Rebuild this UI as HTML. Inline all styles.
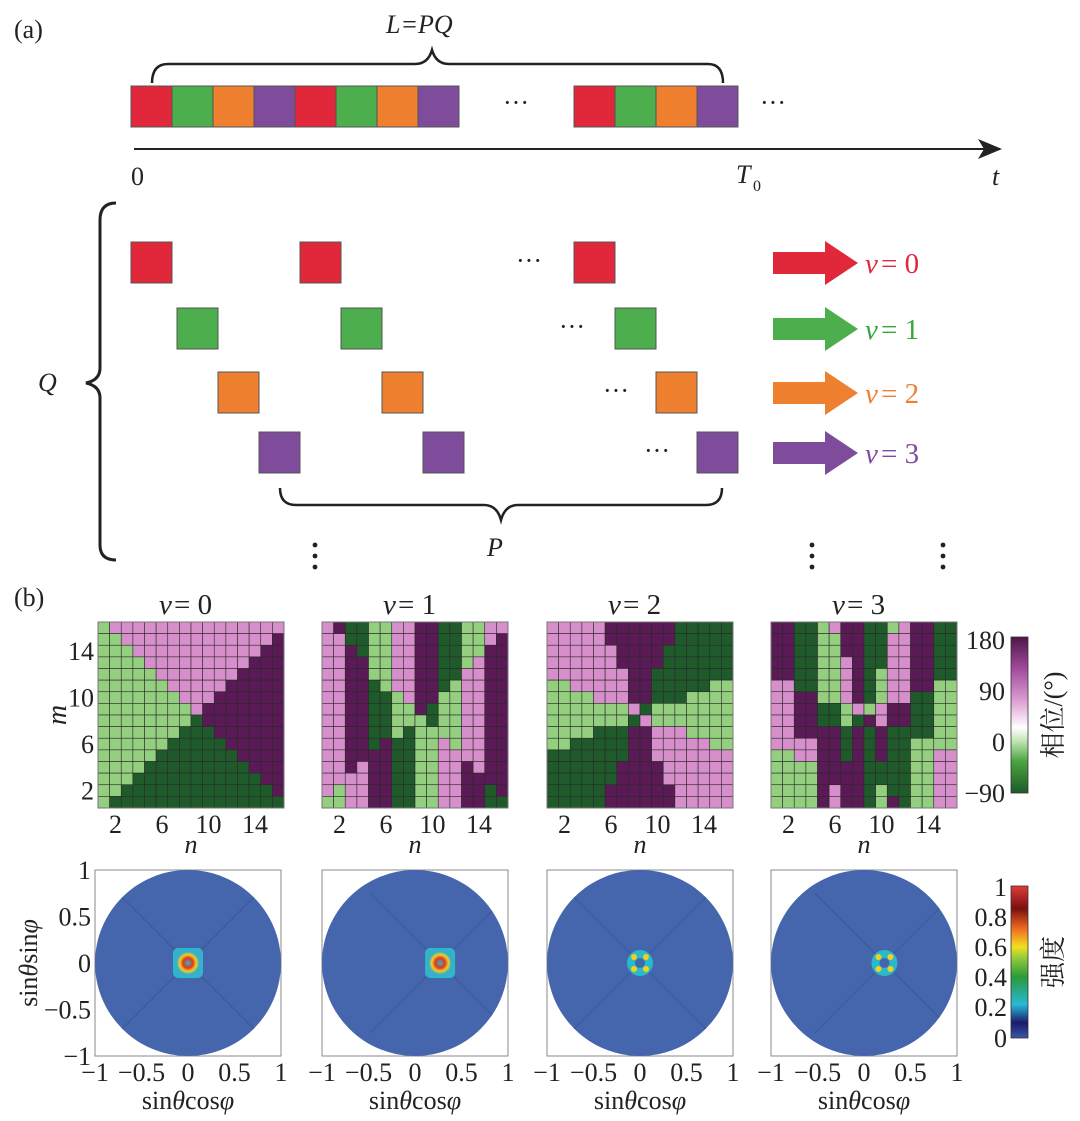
<!DOCTYPE html>
<html><head><meta charset="utf-8"><style>
html,body{margin:0;padding:0;background:#fff;}
svg{display:block;font-family:"Liberation Serif","Noto Serif CJK SC",serif;}
.t{font-size:26px;fill:#222;}
.i{font-style:italic;}
</style></head><body>
<svg id="fig" width="1080" height="1121" viewBox="0 0 1080 1121" xmlns="http://www.w3.org/2000/svg">
<defs>
<marker id="ah" markerWidth="12" markerHeight="10" refX="11" refY="5" orient="auto"><path d="M0,0 L12,5 L0,10 L3,5 Z" fill="#222"/></marker>
<linearGradient id="pg" x1="0" y1="1" x2="0" y2="0">
<stop offset="0" stop-color="#1c5a28"/><stop offset="0.2" stop-color="#4aa33e"/><stop offset="0.33" stop-color="#bfe3b0"/><stop offset="0.42" stop-color="#ffffff"/><stop offset="0.6" stop-color="#d99bd0"/><stop offset="0.8" stop-color="#a04a9a"/><stop offset="1" stop-color="#4e1648"/></linearGradient>
<linearGradient id="ig" x1="0" y1="1" x2="0" y2="0">
<stop offset="0" stop-color="#3b57a8"/><stop offset="0.1" stop-color="#1a1a6a"/><stop offset="0.22" stop-color="#28b9d6"/><stop offset="0.4" stop-color="#2a9a3a"/><stop offset="0.52" stop-color="#8cc83c"/><stop offset="0.6" stop-color="#f2e020"/><stop offset="0.72" stop-color="#ef6a20"/><stop offset="0.85" stop-color="#7a1010"/><stop offset="1" stop-color="#e03a3a"/></linearGradient>
<radialGradient id="spot"><stop offset="0" stop-color="#2ab9c9"/><stop offset="0.35" stop-color="#e03520"/><stop offset="0.6" stop-color="#f2d020"/><stop offset="0.8" stop-color="#3ab0c8"/><stop offset="1" stop-color="#3ab0c8"/></radialGradient>
</defs>

<!-- (a) -->
<text class="t" x="14" y="38">(a)</text>
<text class="t i" x="386" y="33" font-size="28">L=PQ</text>
<path d="M152,83 Q152,64 168,64 L415,64 Q428,64 432,50 Q436,64 449,64 L708,64 Q723,64 723,83" fill="none" stroke="#222" stroke-width="2.5"/>
<g id="strip"></g>
<text class="t" x="503" y="111">···</text>
<text class="t" x="760" y="111">···</text>
<line x1="134" y1="149" x2="1000" y2="149" stroke="#222" stroke-width="2" marker-end="url(#ah)"/>
<text class="t" x="131" y="185">0</text>
<text class="t i" x="736" y="183">T</text><text x="753" y="191" font-size="16" fill="#222">0</text>
<text class="t i" x="992" y="185">t</text>
<path d="M116,203 Q100,203 100,220 L100,368 Q100,380 86,383 Q100,386 100,398 L100,545 Q100,560 116,560" fill="none" stroke="#222" stroke-width="3"/>
<text class="t i" x="38" y="391" font-size="28">Q</text>
<g id="rows"></g>
<path d="M280,488 Q280,505 296,505 L484,505 Q497,505 501,520 Q505,505 518,505 L706,505 Q722,505 722,488" fill="none" stroke="#222" stroke-width="2.5"/>
<text class="t i" x="487" y="556" font-size="28">P</text>
<g fill="#222">
<circle cx="315" cy="545" r="2.4"/><circle cx="315" cy="556" r="2.4"/><circle cx="315" cy="567" r="2.4"/>
<circle cx="812" cy="545" r="2.4"/><circle cx="812" cy="556" r="2.4"/><circle cx="812" cy="567" r="2.4"/>
<circle cx="943" cy="545" r="2.4"/><circle cx="943" cy="556" r="2.4"/><circle cx="943" cy="567" r="2.4"/>
</g>

<!-- (b) -->
<text class="t" x="14" y="606">(b)</text>
<g id="phase"></g>
<g id="inten"></g>
<rect x="1011" y="637" width="17" height="156" fill="url(#pg)" stroke="#333" stroke-width="0.8"/>
<g class="t" text-anchor="end">
<text x="1005" y="649">180</text><text x="1005" y="700">90</text><text x="1005" y="751">0</text><text x="1005" y="802">−90</text></g>
<text class="t" font-size="28" transform="translate(1062,715) rotate(-90)" text-anchor="middle">相位/(°)</text>
<rect x="1011" y="886" width="17" height="152" fill="url(#ig)" stroke="#333" stroke-width="0.8"/>
<g class="t" text-anchor="end">
<text x="1007" y="896">1</text><text x="1007" y="926">0.8</text><text x="1007" y="956">0.6</text><text x="1007" y="986">0.4</text><text x="1007" y="1016">0.2</text><text x="1007" y="1047">0</text></g>
<text class="t" font-size="28" transform="translate(1062,962) rotate(-90)" text-anchor="middle">强度</text>
</svg>
<script>
const NS='http://www.w3.org/2000/svg';
const seqColors=['#e0283a','#4cae4c','#ef8030','#7f4c9c'];
const phaseColors={L:'#93cf7f',G:'#1e5a2a',P:'#d68fca',D:'#5a1a55'};
const phaseData=[
["LPPPPPPPPPPPPPPP","LLPPPPPPPPPPPPPD","LLLPPPPPPPPPPPDD","LLLLPPPPPPPPPDDD","LLLLLPPPPPPPDDDD","LLLLLLPPPPPDDDDD","LLLLLLLPPPDDDDDD","LLLLLLLLPDDDDDDD","LLLLLLLLGDDDDDDD","LLLLLLLGGGDDDDDD","LLLLLLGGGGGDDDDD","LLLLLGGGGGGGDDDD","LLLLGGGGGGGGGDDD","LLLGGGGGGGGGGGDD","LLGGGGGGGGGGGGGD","LGGGGGGGGGGGGGGG"],
["PDGGLLPPDDGGLLPP","PPGGLLPPDDGGLLPD","PPDGLLPPDDGGLLDD","PPDDLLPPDDGGLPDD","PPDDLLPPDDGGPPDD","PPDDGLPPDDGLPPDD","PPDDGGLPDDLLPPDD","PPDDGGLLDGLLPPDD","PPDDGGLLLGLLPPDD","PPDDGGLGLLLLPPDD","PPDDGDGGLLPLPPDD","PPDDDDGGLLPPPPDD","PPDPDDGGLLPPDPDD","PPPPDDGGLLPPDDDD","PLPPDDGGLLPPDDGD","LLPPDDGGLLPPDDGG"],
["PPPPPDDDDDDGGGGG","PPPPPDDDDDDGGGGG","PPPPPPDDDDGGGGGG","PPPPPPDDDDGGGGGG","PPPPPPPDDGGGGGGG","LLPPPPPDDGGGGGLL","LLLLPPPDDGGGLLLL","LLLLLLLPGLLLLLLL","LLLLLLLGPLLLLLLL","LLLLGGGDDPPPLLLL","LLGGGGGDDPPPPPLL","GGGGGGGDDPPPPPPP","GGGGGGDDDDPPPPPP","GGGGGGDDDDPPPPPP","GGGGGDDDDDDPPPPP","GGGGGDDDDDDPPPPP"],
["DDGGLPDDGGLPDDGG","DDGGLLDDGGPPDDGG","DDGGLLDDGGPPDDGG","DDGGLLPDGGPPDDGG","DDGGLLPDGLPPDDGG","PPGGLLPDGLPPDDLL","PPDDLLPDGLPPGGLL","PPDDGGLPLPDDGGLL","PPDDGGLGDPDDGGLL","PPDDDDGDGDGGGGLL","PPPPDDGDGDGGLLLL","LLPPDDGDGDGGLLPP","LLLLDDDDGGGGLLPP","LLLLDDDDGGGGLLPP","LLLLDPDDGLGGLLPP","LLLLDPDDGLDGLLPP"]];
const nTicks=[2,6,10,14];
const mTicks=[14,10,6,2];
const beamCenterX=[0,0.27,0,0.22];
const intTicks=[-1,-0.5,0,0.5,1];
const intTickLabels=['−1','−0.5','0','0.5','1'];
function el(tag,attrs,parent){const e=document.createElementNS(NS,tag);for(const k in attrs)e.setAttribute(k,attrs[k]);parent.appendChild(e);return e;}
const strip=document.getElementById('strip');
const stripX0=[131,574],sq=41;
const stripCounts=[8,4];
stripX0.forEach((x0,g)=>{for(let i=0;i<stripCounts[g];i++){
 const r=el('rect',{x:x0+i*sq,y:86,width:sq,height:41,fill:seqColors[i%4],stroke:'#555','stroke-width':1},strip);
 
 }});
const rows=document.getElementById('rows');
const rowY=[242,308,372,432];
const rowXs=[[131,300,574],[177,341,615],[218,382,656],[259,423,697]];
const dotX=[516,559,603,644];
const labelColors=['#e0283a','#3aa63a','#ef8030','#7f4c9c'];
for(let v=0;v<4;v++){
 rowXs[v].forEach(x=>{const r=el('rect',{x:x,y:rowY[v],width:41,height:41,fill:seqColors[v],stroke:'#555','stroke-width':1},rows);
  
  });
 const d=el('text',{x:dotX[v],y:rowY[v]+27,'font-size':26,fill:'#222'},rows);d.textContent='···';
 const cy=rowY[v]+21;
 const a=el('path',{d:`M773,${cy-11} L825,${cy-11} L825,${cy-22} L858,${cy} L825,${cy+22} L825,${cy+11} L773,${cy+11} Z`,fill:seqColors[v]},rows);
 
 
 const t=el('text',{x:865,y:cy+10,'font-size':29,fill:labelColors[v],'font-style':'italic'},rows);t.textContent='v';
 const t2=el('text',{x:881,y:cy+10,'font-size':29,fill:labelColors[v]},rows);t2.textContent=' = '+v;
}
const ph=document.getElementById('phase');
const pX=[98,322,547,771],pY=622,pS=186,cell=pS/16;
for(let v=0;v<4;v++){
 const g=el('g',{},ph);
 
 
 phaseData[v].forEach((row,r)=>{for(let c=0;c<16;c++){
  const rc=el('rect',{x:pX[v]+c*cell,y:pY+r*cell,width:cell,height:cell,fill:phaseColors[row[c]],stroke:'#2a2a2a','stroke-width':0.6},g);
  
  }});
 el('rect',{x:pX[v],y:pY,width:pS,height:pS,fill:'none',stroke:'#777','stroke-width':1},g);
 const ti=el('text',{x:pX[v]+pS/2-32,y:614,'font-size':29,fill:'#222','font-style':'italic'},g);ti.textContent='v';
 const ti2=el('text',{x:pX[v]+pS/2-17,y:614,'font-size':29,fill:'#222'},g);ti2.textContent=' = '+v;
 nTicks.forEach(n=>{const t=el('text',{x:pX[v]+(n-0.5)*cell,y:833,'font-size':26,fill:'#222','text-anchor':'middle'},g);t.textContent=n;});
 const nl=el('text',{x:pX[v]+pS/2,y:853,'font-size':26,fill:'#222','font-style':'italic','text-anchor':'middle'},g);nl.textContent='n';
}
mTicks.forEach(m=>{const t=el('text',{x:94,y:pY+(16-m+0.5)*cell+9,'font-size':26,fill:'#222','text-anchor':'end'},ph);t.textContent=m;});
const ml=el('text',{transform:'translate(66,715) rotate(-90)','font-size':28,fill:'#222','font-style':'italic','text-anchor':'middle'},ph);ml.textContent='m';
const it=document.getElementById('inten');
const iX=[95,322,547,771],iY=870,iS=186;
for(let v=0;v<4;v++){
 const g=el('g',{},it);
 
 
 const x0=iX[v],sx=u=>x0+(u+1)/2*iS,sy=u=>iY+(1-u)/2*iS;
 el('rect',{x:x0,y:iY,width:iS,height:iS,fill:'#fff',stroke:'#888','stroke-width':1},g);
 const cid='clip'+v;
 const cp=el('clipPath',{id:cid},g);
 el('circle',{cx:sx(0),cy:sy(0),r:iS/2},cp);
 el('circle',{cx:sx(0),cy:sy(0),r:iS/2,fill:'#4565ac'},g);
 const cx=sx(beamCenterX[v]),cy=sy(0);
 const gl=el('g',{'clip-path':`url(#${cid})`},g);
 el('path',{d:`M${cx-70},${cy-70}L${cx+70},${cy+70}M${cx+70},${cy-70}L${cx-70},${cy+70}`,stroke:'#3a5596','stroke-width':1.5,opacity:0.6},gl);
 if(v<2){
  el('rect',{x:cx-14,y:cy-14,width:28,height:28,rx:4,fill:'url(#spot)',stroke:'#2ab9c9','stroke-width':2},g);
 }else{
  el('circle',{cx:cx,cy:cy,r:13,fill:'#2ab9c9'},g);
  el('circle',{cx:cx,cy:cy,r:5,fill:'#4565ac'},g);
  [[-6,-6],[6,-6],[-6,6],[6,6]].forEach(p=>el('circle',{cx:cx+p[0],cy:cy+p[1],r:3,fill:'#f0d020'},g));
 }
 intTicks.forEach((u,k)=>{const t=el('text',{x:sx(u),y:1081,'font-size':26,fill:'#222','text-anchor':'middle'},g);t.textContent=intTickLabels[k];});
 const xl=el('text',{x:x0+iS/2,y:1109,'font-size':26,fill:'#222','text-anchor':'middle'},g);
 xl.innerHTML='sin<tspan font-style="italic">θ</tspan>cos<tspan font-style="italic">φ</tspan>';
}
intTicks.forEach((u,k)=>{const t=el('text',{x:91,y:iY+(1-u)/2*iS+9,'font-size':26,fill:'#222','text-anchor':'end'},it);t.textContent=intTickLabels[k];});
const yl=el('text',{transform:'translate(37,963) rotate(-90)','font-size':26,fill:'#222','text-anchor':'middle'},it);
yl.innerHTML='sin<tspan font-style="italic">θ</tspan>sin<tspan font-style="italic">φ</tspan>';
</script>
</body></html>
